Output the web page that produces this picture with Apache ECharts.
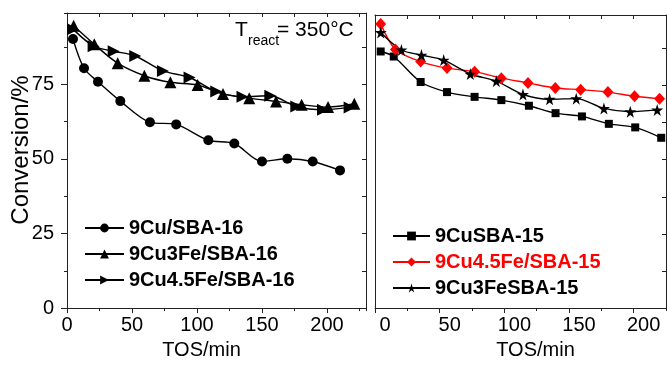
<!DOCTYPE html>
<html>
<head>
<meta charset="utf-8">
<script src="https://cdn.jsdelivr.net/npm/echarts@6/dist/echarts.min.js"></script>
<style>
html,body{margin:0;padding:0;background:#fff;}
#chart{width:667px;height:365px;}
</style>
</head>
<body>
<div id="chart"></div>
<script>
// ---- Left panel (SBA-16) ----
const namesLeft = ['9Cu/SBA-16', '9Cu3Fe/SBA-16', '9Cu4.5Fe/SBA-16'];
const cuSBA16_x = [4.6, 13.1, 23.8, 41, 63.8, 84, 108.7, 128.7, 150, 169.5, 189, 210];
const cuSBA16_y = [90.1, 80.3, 75.8, 69.3, 62.2, 61.5, 56.2, 55.1, 49.1, 50.0, 49.1, 46.1];
const cu3FeSBA16_x = [5.1, 21, 39, 59.5, 79.5, 100.5, 120, 140.2, 160.8, 180.5, 200.8, 221];
const cu3FeSBA16_y = [94.5, 88.3, 82.0, 77.8, 75.6, 74.7, 71.7, 70.3, 69.2, 68.1, 67.3, 68.4];
const cu45FeSBA16_x = [4.6, 20.5, 35.9, 52.5, 73.8, 94.3, 114.8, 135, 156.4, 176.4, 196.9, 217.4];
const cu45FeSBA16_y = [93.4, 87.7, 86.0, 84.4, 79.4, 77.2, 72.5, 70.8, 71.1, 67.5, 66.4, 67.2];

// ---- Right panel (SBA-15) ----
const namesRight = ['9CuSBA-15', '9Cu4.5Fe/SBA-15', '9Cu3FeSBA-15'];
const cuSBA15_x = [4.4, 14.5, 35.3, 55.7, 77, 97.7, 119, 139.6, 160, 180.8, 201.2, 221.3];
const cuSBA15_y = [86.5, 84.8, 76.2, 72.8, 71.2, 70.1, 68.2, 65.7, 64.6, 62.1, 60.9, 57.4];
const cu45FeSBA15_x = [4.4, 15.8, 35.3, 55.7, 77, 97.7, 118.3, 139.4, 159, 180.1, 200.7, 220];
const cu45FeSBA15_y = [95.8, 87.2, 83.1, 80.9, 79.7, 77.5, 75.9, 74.2, 73.6, 72.8, 71.4, 70.6];
const cu3FeSBA15_x = [4.4, 20.4, 35.9, 53.1, 73.7, 93.8, 114.4, 135, 155.6, 177, 197.4, 218.2];
const cu3FeSBA15_y = [92.9, 87.0, 85.3, 83.6, 78.9, 76.5, 72.0, 70.4, 70.6, 67.3, 66.2, 66.8];

const xTickValues = [0, 50, 100, 150, 200];
const yTickValues = [0, 25, 50, 75];
const xName = 'TOS/min';
const yName = 'Conversion/%';
const tempText = ['T', 'react', '= 350°C'];

const FONT = '"Liberation Sans", Arial, sans-serif';
const AX = '#222';
const zip = (xs, ys) => xs.map((x, i) => [x, ys[i]]);
const STAR = 'path://M50,0 L61,35 L98,35 L68,57 L79,91 L50,70 L21,91 L32,57 L2,35 L39,35 Z';

function mainX(grid, max, labelPad, nameGap, namePad) {
  return {
    gridIndex: grid, type: 'value', position: 'bottom', min: 0, max: max, interval: 50,
    axisLine: {show: true, onZero: false, lineStyle: {color: AX, width: 1}},
    axisTick: {show: true, inside: false, length: 5, lineStyle: {color: AX}},
    axisLabel: {show: true, color: '#000', fontSize: 20, fontFamily: FONT, margin: 7,
      showMaxLabel: false, padding: labelPad,
      formatter: v => (xTickValues.indexOf(v) >= 0 ? String(v) : '')},
    splitLine: {show: false},
    name: xName, nameLocation: 'middle', nameGap: nameGap,
    nameTextStyle: {color: '#000', fontSize: 20, fontFamily: FONT, padding: namePad}
  };
}
function minorX(grid, max) {
  return {
    gridIndex: grid, type: 'value', position: 'bottom', min: 0, max: max, interval: 25,
    axisLine: {show: false}, axisTick: {show: true, length: 3, lineStyle: {color: AX}},
    axisLabel: {show: false}, splitLine: {show: false}
  };
}
function topX(grid, max) {
  return {
    gridIndex: grid, type: 'value', position: 'top', min: 0, max: max, interval: 25,
    axisLine: {show: true, onZero: false, lineStyle: {color: AX, width: 1}},
    axisTick: {show: true, inside: true, length: 4, lineStyle: {color: AX}},
    axisLabel: {show: false}, splitLine: {show: false}
  };
}
const YMAX = 98.8;

const option = {
  backgroundColor: '#fff',
  animation: false,
  grid: [
    {left: 67, top: 13, width: 299, height: 299, containLabel: false},
    {left: 375, top: 15, width: 291, height: 298, containLabel: false}
  ],
  xAxis: [
    mainX(0, 230, 0, 24, [0, 30, 0, 0]),
    minorX(0, 230),
    topX(0, 230),
    mainX(1, 225, [0, 0, 0, 20], 32, [0, 0, 0, 30]),
    minorX(1, 225),
    topX(1, 225)
  ],
  yAxis: [
    {
      gridIndex: 0, type: 'value', position: 'left', min: 0, max: YMAX, interval: 25,
      axisLine: {show: true, onZero: false, lineStyle: {color: AX, width: 1}},
      axisTick: {show: true, length: 6, lineStyle: {color: AX}},
      axisLabel: {show: true, color: '#000', fontSize: 20, fontFamily: FONT, margin: 13,
        showMaxLabel: false,
        formatter: v => (yTickValues.indexOf(v) >= 0 ? String(v) : '')},
      splitLine: {show: false}
    },
    {
      gridIndex: 0, type: 'value', position: 'left', min: 0, max: YMAX, interval: 12.5,
      axisLine: {show: false}, axisTick: {show: true, length: 3, lineStyle: {color: AX}},
      axisLabel: {show: false}, splitLine: {show: false}
    },
    {
      gridIndex: 0, type: 'value', position: 'right', min: 0, max: YMAX, interval: 12.5,
      axisLine: {show: true, onZero: false, lineStyle: {color: AX, width: 1}},
      axisTick: {show: true, inside: true, length: 4, lineStyle: {color: AX}},
      axisLabel: {show: false}, splitLine: {show: false}
    },
    {
      gridIndex: 1, type: 'value', position: 'left', min: 0, max: YMAX, interval: 25,
      axisLine: {show: true, onZero: false, lineStyle: {color: AX, width: 1}},
      axisTick: {show: false}, axisLabel: {show: false}, splitLine: {show: false}
    },
    {
      gridIndex: 1, type: 'value', position: 'right', min: 0, max: YMAX, interval: 12.5,
      axisLine: {show: true, onZero: false, lineStyle: {color: AX, width: 1}},
      axisTick: {show: true, inside: true, length: 4, lineStyle: {color: AX}},
      axisLabel: {show: false}, splitLine: {show: false}
    }
  ],
  legend: [
    {
      orient: 'vertical', left: 79, top: 213, itemWidth: 39, itemHeight: 11, itemGap: 6,
      selectedMode: false,
      textStyle: {color: '#000', fontSize: 20, fontWeight: 'bold', fontFamily: FONT, lineHeight: 20},
      data: namesLeft
    },
    {
      orient: 'vertical', left: 387, top: 221, itemWidth: 37, itemHeight: 11, itemGap: 6,
      selectedMode: false,
      textStyle: {color: '#000', fontSize: 20, fontWeight: 'bold', fontFamily: FONT, lineHeight: 20},
      data: [namesRight[0], {name: namesRight[1], textStyle: {color: '#ff0000'}}, namesRight[2]]
    }
  ],
  graphic: [
    {type: 'text', x: 21, y: 150, rotation: Math.PI / 2,
      style: {text: yName, font: '24px ' + FONT, fill: '#000', align: 'center', verticalAlign: 'middle'}},
    {type: 'text', left: 235, top: 20, style: {text: tempText[0], font: '21px ' + FONT, fill: '#000'}},
    {type: 'text', left: 248, top: 34, style: {text: tempText[1], font: '14px ' + FONT, fill: '#000'}},
    {type: 'text', left: 277, top: 20, style: {text: tempText[2], font: '21px ' + FONT, fill: '#000'}}
  ],
  series: [
    {name: namesLeft[0], type: 'line', xAxisIndex: 0, yAxisIndex: 0, data: zip(cuSBA16_x, cuSBA16_y),
      symbol: 'circle', symbolSize: 10, smooth: 0.3,
      lineStyle: {color: '#000', width: 1.4}, itemStyle: {color: '#000'}},
    {name: namesLeft[1], type: 'line', xAxisIndex: 0, yAxisIndex: 0, data: zip(cu3FeSBA16_x, cu3FeSBA16_y),
      symbol: 'triangle', symbolSize: 12, smooth: 0.3,
      lineStyle: {color: '#000', width: 1.4}, itemStyle: {color: '#000'}},
    {name: namesLeft[2], type: 'line', xAxisIndex: 0, yAxisIndex: 0, data: zip(cu45FeSBA16_x, cu45FeSBA16_y),
      symbol: 'triangle', symbolRotate: -90, symbolSize: 12, smooth: 0.3,
      lineStyle: {color: '#000', width: 1.4}, itemStyle: {color: '#000'}},
    {name: namesRight[0], type: 'line', xAxisIndex: 3, yAxisIndex: 3, data: zip(cuSBA15_x, cuSBA15_y),
      symbol: 'rect', symbolSize: 8, smooth: 0.3,
      lineStyle: {color: '#000', width: 1.4}, itemStyle: {color: '#000'}},
    {name: namesRight[1], type: 'line', xAxisIndex: 3, yAxisIndex: 3, data: zip(cu45FeSBA15_x, cu45FeSBA15_y),
      symbol: 'diamond', symbolSize: [11, 12], smooth: 0.3,
      lineStyle: {color: '#ff0000', width: 1.4}, itemStyle: {color: '#ff0000'}},
    {name: namesRight[2], type: 'line', xAxisIndex: 3, yAxisIndex: 3, data: zip(cu3FeSBA15_x, cu3FeSBA15_y),
      symbol: STAR, symbolSize: 12, smooth: 0.3,
      lineStyle: {color: '#000', width: 1.4}, itemStyle: {color: '#000'}}
  ]
};

const chart = echarts.init(document.getElementById('chart'), null, {renderer: 'canvas'});
chart.setOption(option);
</script>
</body>
</html>
